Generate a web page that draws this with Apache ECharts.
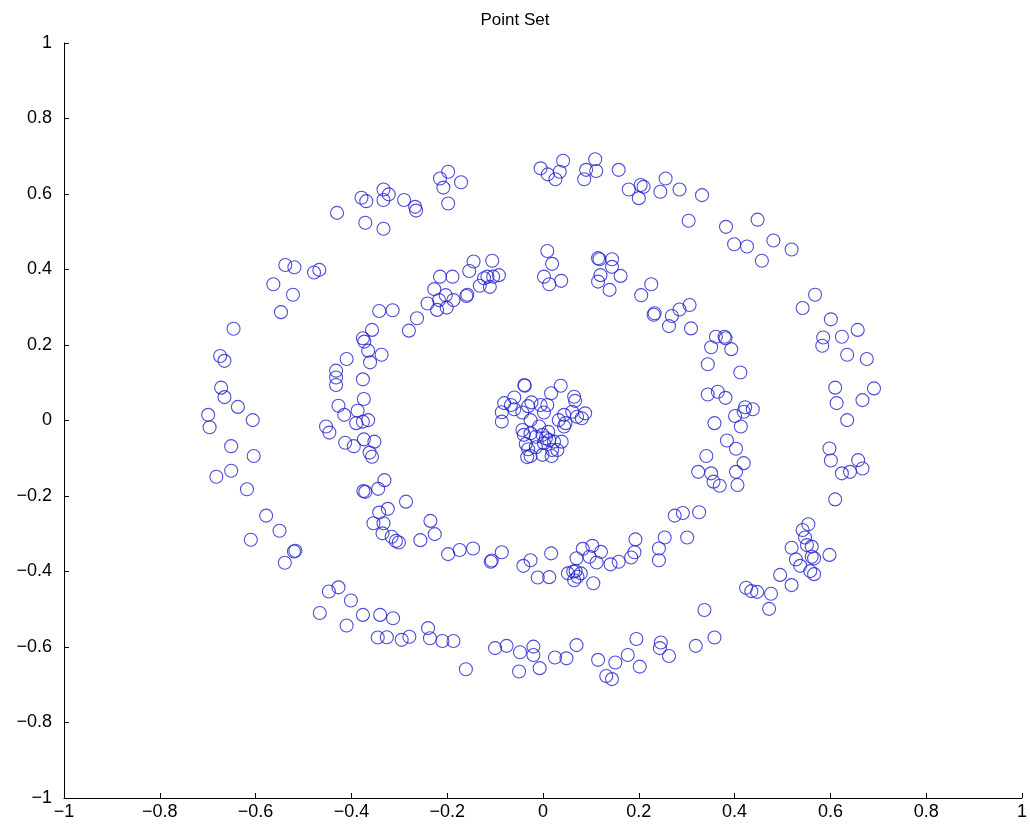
<!DOCTYPE html>
<html>
<head>
<meta charset="utf-8">
<script src="https://cdn.jsdelivr.net/npm/echarts@6/dist/echarts.min.js"></script>
<style>
html,body{margin:0;padding:0;background:#fff;}
#chart{width:1030px;height:829px;}
</style>
</head>
<body>
<div id="chart"></div>
<script>
const chartTitle = 'Point Set';
const xTickValues = [-1, -0.8, -0.6, -0.4, -0.2, 0, 0.2, 0.4, 0.6, 0.8, 1];
const yTickValues = [-1, -0.8, -0.6, -0.4, -0.2, 0, 0.2, 0.4, 0.6, 0.8, 1];

const outerRing = [
[-0.430,0.550],[-0.379,0.590],[-0.369,0.581],[-0.371,0.524],[-0.333,0.612],[-0.322,0.599],[-0.333,0.584],[-0.333,0.508],[-0.290,0.584],[-0.267,0.566],[-0.265,0.556],
[-0.198,0.659],[-0.215,0.641],[-0.208,0.617],[-0.171,0.631],[-0.198,0.575],
[-0.005,0.668],[0.010,0.652],[0.042,0.688],[0.035,0.659],[0.026,0.639],[0.109,0.692],[0.090,0.664],[0.111,0.661],[0.086,0.639],[0.158,0.664],[0.179,0.612],[0.204,0.624],[0.210,0.619],[0.200,0.589],[0.245,0.606],[0.256,0.641],[0.285,0.612],[0.332,0.597],[0.304,0.529],[0.382,0.513],[0.448,0.532],[0.399,0.467],[0.426,0.461],[0.481,0.477],[0.519,0.453],[0.457,0.423],[0.568,0.333],[0.542,0.298],[0.601,0.268],[0.657,0.240],
[0.585,0.220],[0.583,0.198],[0.624,0.222],[0.635,0.174],[0.676,0.163],[0.610,0.087],[0.691,0.085],[0.667,0.054],[0.613,0.046],[0.635,0.001],[0.598,-0.074],[0.601,-0.106],[0.658,-0.105],[0.667,-0.127],[0.624,-0.140],[0.641,-0.136],[0.610,-0.209],
[0.554,-0.275],[0.542,-0.290],[0.547,-0.310],[0.551,-0.330],[0.561,-0.334],[0.519,-0.337],[0.561,-0.361],[0.566,-0.365],[0.598,-0.356],[0.528,-0.368],[0.537,-0.385],[0.558,-0.399],[0.566,-0.407],[0.495,-0.409],[0.519,-0.436],[0.424,-0.443],[0.435,-0.452],[0.447,-0.454],[0.476,-0.459],[0.472,-0.499],[0.337,-0.502],[0.358,-0.575],[0.319,-0.597],[0.246,-0.588],[0.244,-0.603],[0.263,-0.624],
[0.115,-0.634],[0.132,-0.677],[0.144,-0.685],[0.151,-0.641],[0.177,-0.621],[0.195,-0.579],[0.202,-0.652],[0.070,-0.595],[0.049,-0.630],[0.025,-0.628],[-0.007,-0.656],[-0.020,-0.599],[-0.020,-0.621],[-0.050,-0.665],[-0.048,-0.614],[-0.076,-0.597],[-0.100,-0.603],[-0.161,-0.659],[-0.187,-0.584],[-0.210,-0.584],[-0.236,-0.577],[-0.240,-0.550],
[-0.279,-0.573],[-0.295,-0.581],[-0.326,-0.574],[-0.345,-0.575],[-0.313,-0.524],[-0.340,-0.515],[-0.376,-0.515],[-0.410,-0.543],[-0.466,-0.510],[-0.401,-0.477],[-0.427,-0.442],[-0.447,-0.453],
[-0.539,-0.377],[-0.520,-0.347],[-0.517,-0.345],[-0.610,-0.316],[-0.550,-0.292],[-0.578,-0.252],
[-0.618,-0.182],[-0.651,-0.133],[-0.682,-0.149],[-0.604,-0.094],[-0.651,-0.068],[-0.606,0.001],[-0.696,-0.018],[-0.699,0.015],[-0.637,0.036],[-0.665,0.062],[-0.672,0.087],[-0.665,0.158],[-0.674,0.171],[-0.646,0.243],
[-0.547,0.287],[-0.522,0.333],[-0.563,0.361],[-0.538,0.412],[-0.519,0.406],[-0.478,0.392],[-0.467,0.399]
];

const innerRing = [
[-0.342,0.290],[-0.314,0.292],[-0.263,0.271],[-0.357,0.240],[-0.280,0.238],
[-0.227,0.348],[-0.241,0.310],[-0.217,0.319],[-0.203,0.332],[-0.221,0.293],[-0.201,0.299],[-0.187,0.319],[-0.215,0.381],[-0.189,0.381],[-0.160,0.330],[-0.158,0.333],[-0.154,0.396],[-0.145,0.421],[-0.106,0.423],[-0.132,0.357],[-0.123,0.377],[-0.111,0.354],[-0.104,0.381],[-0.092,0.385],[-0.116,0.381],
[0.009,0.449],[0.019,0.415],[0.002,0.381],[0.013,0.361],[0.038,0.370],
[0.115,0.430],[0.118,0.427],[0.144,0.427],[0.144,0.407],[0.162,0.383],[0.120,0.385],[0.115,0.368],[0.139,0.346],
[0.226,0.361],[0.205,0.332],[0.233,0.284],[0.231,0.280],
[0.306,0.306],[0.285,0.294],[0.269,0.277],[0.263,0.250],[0.309,0.244],
[0.361,0.222],[0.379,0.222],[0.381,0.218],[0.351,0.194],[0.393,0.189],[0.344,0.149],[0.412,0.127],[0.344,0.069],[0.365,0.076],[0.381,0.060],[0.422,0.035],[0.438,0.030],[0.419,0.023],[0.401,0.012],[0.358,-0.007],[0.413,-0.016],[0.384,-0.053],[0.403,-0.075],[0.341,-0.094],[0.419,-0.113],[0.324,-0.136],[0.351,-0.140],[0.403,-0.136],[0.356,-0.162],[0.369,-0.173],[0.406,-0.171],
[0.275,-0.252],[0.292,-0.245],[0.326,-0.243],[0.254,-0.310],[0.301,-0.310],[0.242,-0.339],[0.242,-0.370],
[0.193,-0.315],[0.191,-0.349],[0.184,-0.363],[0.158,-0.374],[0.141,-0.381],[0.105,-0.431],[0.052,-0.405],[0.063,-0.400],[0.068,-0.399],[0.079,-0.405],[0.065,-0.423],[0.072,-0.414],[0.112,-0.376],[0.097,-0.361],[0.121,-0.348],[0.103,-0.332],[0.083,-0.340],[0.070,-0.365],[0.017,-0.352],[0.013,-0.415],[-0.011,-0.416],[-0.026,-0.370],[-0.041,-0.385],[-0.086,-0.349],[-0.107,-0.371],[-0.109,-0.374],[-0.146,-0.339],[-0.174,-0.343],[-0.198,-0.354],[-0.226,-0.301],[-0.235,-0.266],
[-0.256,-0.317],[-0.301,-0.323],[-0.307,-0.319],[-0.316,-0.308],[-0.335,-0.299],[-0.333,-0.272],[-0.354,-0.272],[-0.286,-0.215],[-0.324,-0.234],[-0.342,-0.244],
[-0.331,-0.158],[-0.344,-0.181],[-0.375,-0.187],[-0.371,-0.189],[-0.362,-0.085],[-0.357,-0.096],[-0.352,-0.056],[-0.374,-0.050],[-0.395,-0.068],[-0.413,-0.059],[-0.446,-0.032],[-0.453,-0.016],[-0.365,0.001],[-0.376,-0.003],[-0.390,-0.007],[-0.387,0.026],[-0.415,0.015],[-0.427,0.039],[-0.374,0.057],[-0.376,0.109],[-0.432,0.094],[-0.432,0.114],[-0.432,0.132],[-0.410,0.163],[-0.361,0.154],[-0.337,0.174],[-0.365,0.185],[-0.373,0.209],[-0.376,0.218]
];

const centerCluster = [
[-0.038,0.092],[-0.039,0.094],[0.037,0.092],[0.017,0.072],[0.065,0.063],[0.067,0.052],[-0.060,0.061],[-0.081,0.046],[-0.067,0.041],[-0.060,0.030],[-0.086,0.022],[-0.086,-0.003],[-0.043,0.021],[-0.024,0.048],[-0.031,0.038],[-0.005,0.041],[0.009,0.041],[0.002,0.021],[-0.026,0.001],[0.044,0.015],[0.033,0.001],[0.047,-0.007],[0.044,-0.016],[0.061,0.023],[0.071,0.010],[0.088,0.019],[0.081,0.006],[-0.008,-0.016],[-0.043,-0.025],[-0.040,-0.038],[-0.026,-0.034],[-0.015,-0.043],[-0.001,-0.038],[0.006,-0.047],[0.013,-0.052],[0.002,-0.060],[0.023,-0.056],[0.039,-0.056],[-0.036,-0.062],[-0.031,-0.076],[-0.033,-0.097],[-0.026,-0.094],[-0.001,-0.091],[0.018,-0.094],[0.030,-0.078],[-0.015,-0.071],[0.011,-0.030],[0.019,-0.078]
];

const allPoints = outerRing.concat(innerRing, centerCluster);
const fmt = v => String(Math.round(v * 10) / 10).replace('-', '\u2212');
const FONT = '"Liberation Sans", Arial, Helvetica, sans-serif';

const axisCommon = {
  min: -1, max: 1, interval: 0.2,
  axisLine: { show: true, onZero: false, lineStyle: { color: '#000', width: 1 } },
  axisTick: { show: true, inside: true, length: 5, lineStyle: { color: '#000' } },
  splitLine: { show: false },
  axisLabel: { color: '#000', fontSize: 18, fontFamily: FONT, formatter: fmt }
};

const chart = echarts.init(document.getElementById('chart'), null, { renderer: 'canvas' });
chart.setOption({
  animation: false,
  backgroundColor: '#fff',
  title: {
    text: chartTitle, left: 'center', top: 7,
    textStyle: { color: '#000', fontSize: 17, fontWeight: 'normal', fontFamily: FONT }
  },
  grid: { left: 64, right: 7, top: 43, bottom: 31 },
  xAxis: Object.assign({ type: 'value' }, axisCommon, {
    axisLabel: Object.assign({}, axisCommon.axisLabel, { margin: 5 })
  }),
  yAxis: Object.assign({ type: 'value' }, axisCommon, {
    axisLabel: Object.assign({}, axisCommon.axisLabel, { margin: 12 })
  }),
  series: [{
    type: 'scatter',
    data: allPoints,
    symbol: 'circle',
    symbolSize: 13,
    itemStyle: { color: 'rgba(0,0,0,0)', borderColor: '#2222cc', borderWidth: 1.1 }
  }]
});
</script>
</body>
</html>
